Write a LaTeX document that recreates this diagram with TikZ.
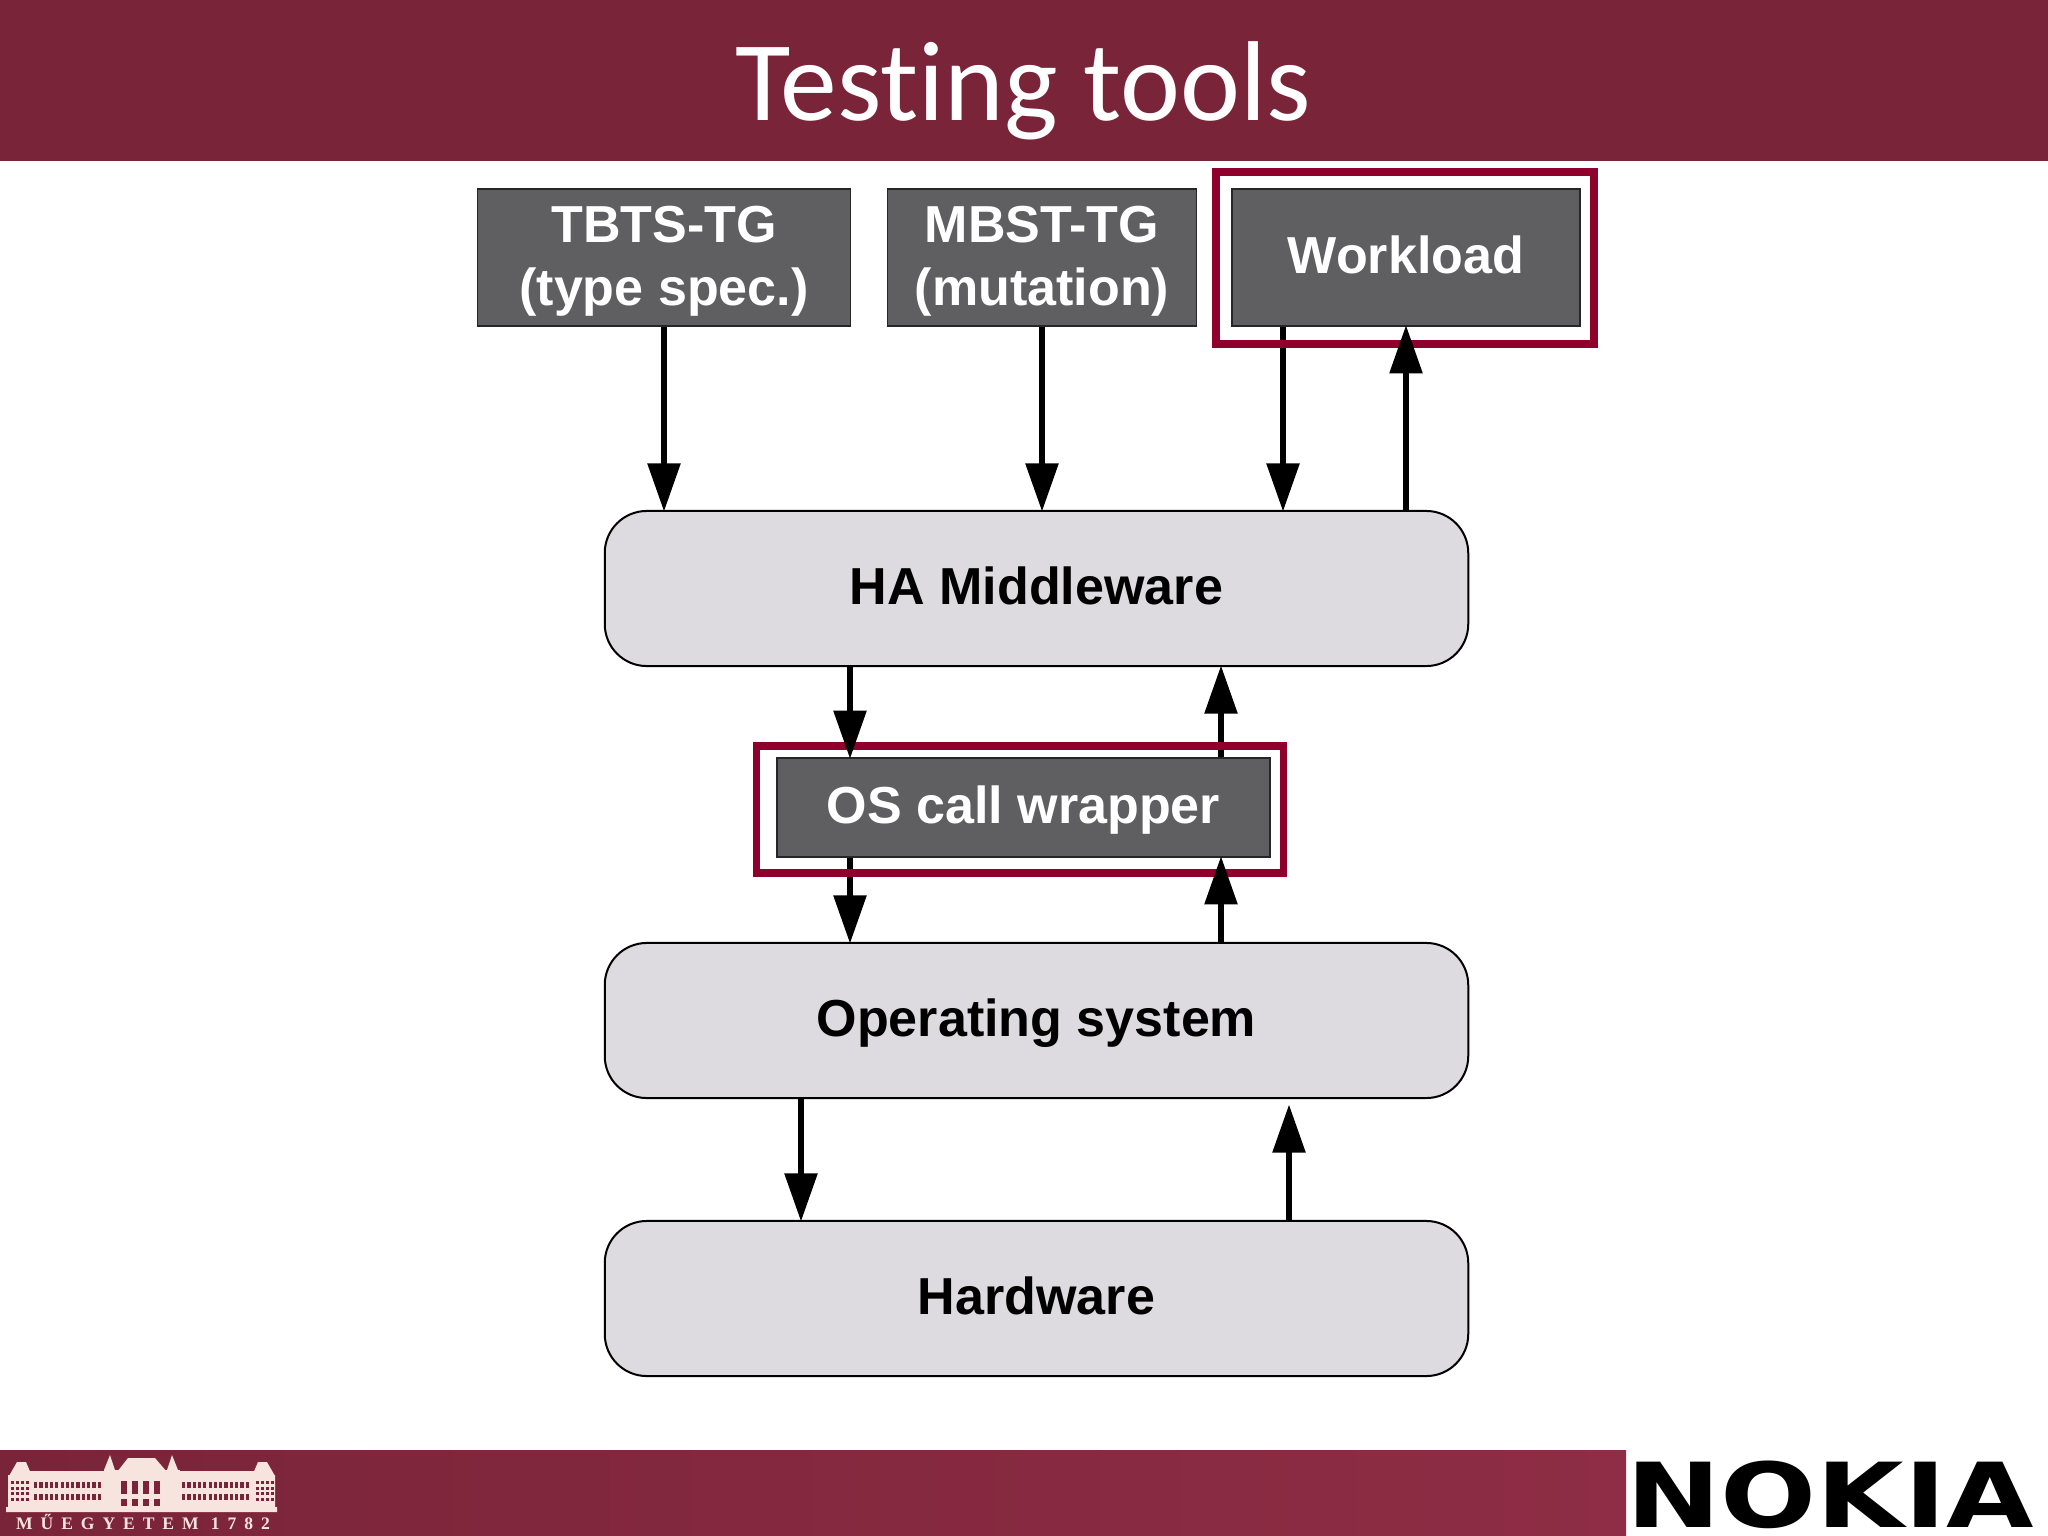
\documentclass[tikz,border=0pt]{standalone}
\usepackage{fontspec}
\setmainfont{Liberation Sans}
\newfontfamily\titlefont[Ligatures=NoCommon]{Carlito}
\newfontfamily\logofont{DejaVu Sans}
\newfontfamily\crestfont[LetterSpace=45]{Liberation Serif}
\usetikzlibrary{arrows.meta, positioning}
\definecolor{wine}{HTML}{7A2439}
\definecolor{wineend}{HTML}{8E2D45}
\definecolor{frame}{HTML}{8F002C}
\definecolor{slate}{HTML}{5F5E60}
\definecolor{mist}{HTML}{DDDBDF}
\definecolor{crest}{HTML}{F8E4DE}

\begin{document}
\begin{tikzpicture}[x=0.01cm, y=-0.01cm,
  tool/.style={draw=black!85, line width=0.015cm, fill=slate, text=white, font=\bfseries\fontsize{14.8}{17.8}\selectfont,
              align=center, inner sep=0pt},
  one/.style={text height=0.4cm, text depth=0.086cm},
  layer/.style={one, draw=black, line width=0.02cm, fill=mist, rounded corners=0.42cm, font=\bfseries\fontsize{14.8}{17.8}\selectfont,
              minimum width=8.63cm, minimum height=1.55cm, inner sep=0pt},
  markbox/.style={draw=frame, line width=0.075cm, inner sep=0pt},
  a/.style={-{Triangle[length=0.48cm, width=0.32cm]}, line width=0.055cm, draw=black, shorten >=-0.015cm},
  brick/.style={fill=crest, draw=none}]
\useasboundingbox (0,0) rectangle (2048,1536);
% bars
\fill[wine] (0,0) rectangle (2048,161);
\shade[left color=wine, right color=wineend] (0,1450) rectangle (1626,1536);
\node[text=white, font=\titlefont\fontsize{32.3}{38}\selectfont, anchor=base] (title) at (1023,120) {Testing tools};
% boxes
\node[tool, minimum width=3.73cm, minimum height=1.37cm] (tbts) at (664,257.5) {\rule{0pt}{12.3pt}TBTS-TG\\(type spec.)};
\node[tool, minimum width=3.09cm, minimum height=1.37cm] (mbst) at (1042,257.5) {\rule{0pt}{12.3pt}MBST-TG\\(mutation)};
\node[tool, one, minimum width=3.48cm, minimum height=1.37cm] (work) at (1406,257.5) {Workload};
\node[layer] (ha) at (1036.5,588.5) {HA Middleware};
\node[tool, one, minimum width=4.93cm, minimum height=0.99cm] (wrap) at (1023.5,807.5) {OS call wrapper};
\node[layer] (os) at (1036.5,1020.5) {Operating system};
\node[layer] (hw) at (1036.5,1298.5) {Hardware};
% arrow columns
\coordinate (c1) at (801,0);
\coordinate (c2) at (850,0);
\coordinate (c3) at (1221,0);
\coordinate (c4) at (1283,0);
\coordinate (c5) at (1289,0);
\draw[a] (tbts.south) -- (ha.north -| tbts.south);
\draw[a] (mbst.south) -- (ha.north -| mbst.south);
\draw[a] (work.south -| c4) -- (ha.north -| c4);
\draw[a] (wrap.north -| c3) -- (ha.south -| c3);
\draw[a] (wrap.south -| c2) -- (os.north -| c2);
\node[markbox, minimum width=3.78cm, minimum height=1.72cm] (workmark) at (1405,258) {};
\node[markbox, minimum width=5.27cm, minimum height=1.27cm] (wrapmark) at (1020,809.5) {};
\draw[a] (ha.north -| work.south) -- (work.south);
\draw[a] (ha.south -| c2) -- (wrap.north -| c2);
\draw[a] (os.north -| c3) -- (wrap.south -| c3);
\draw[a] (os.south -| c1) -- (hw.north -| c1);
\draw[a] (hw.north -| c5) -- ([yshift=-0.07cm]os.south -| c5);
% crest
\fill[brick] (6,1512) rectangle (277,1507) (8,1507) rectangle (275,1475) (30,1475) rectangle (255,1471);
\fill[brick] (9,1476) -- (17,1462) -- (26,1462) -- (32,1476) -- cycle
  (252,1476) -- (258,1462) -- (267,1462) -- (275,1476) -- cycle
  (117,1472) -- (128,1458) -- (155,1458) -- (167,1472) -- cycle
  (104,1470) -- (110,1455) -- (115,1470) -- cycle
  (167,1470) -- (172,1455) -- (178,1470) -- cycle;
\fill[brick] (104,1470) rectangle (180,1512);
\foreach \i in {0,...,12} {
  \fill[wine] (34+5.3*\i,1482) rectangle ++(3.2,6);
  \fill[wine] (34+5.3*\i,1494) rectangle ++(3.2,6);
  \fill[wine] (182+5.3*\i,1482) rectangle ++(3.2,6);
  \fill[wine] (182+5.3*\i,1494) rectangle ++(3.2,6);
}
\foreach \i in {0,1,2,3} {
  \fill[wine] (121+11*\i,1481) rectangle ++(6,13);
  \fill[wine] (121+11*\i,1499) rectangle ++(6,7);
}
\foreach \i in {0,1,2,3} {
  \foreach \j in {0,1,2,3} {
    \fill[wine] (11+5*\i,1481+5.5*\j) rectangle ++(3,3.2);
    \fill[wine] (256+5*\i,1481+5.5*\j) rectangle ++(3,3.2);
  }
}
\node[text=crest, font=\crestfont\bfseries\fontsize{5}{6}\selectfont, inner sep=0pt] (crestname) at (143,1522) {MŰEGYETEM 1782};
% logo
\node[font=\logofont\bfseries\fontsize{25.5}{30}\selectfont, xscale=1.26, inner sep=0pt, text=black] (nokia) at (1830,1495) {NOKIA};
\end{tikzpicture}
\end{document}
